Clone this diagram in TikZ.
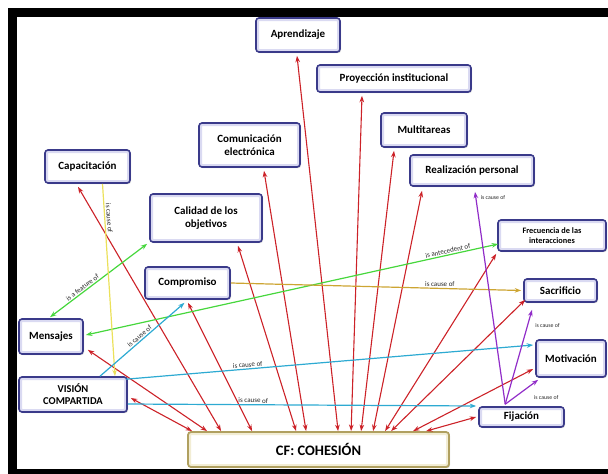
\documentclass[tikz,border=0pt]{standalone}
\usepackage{fontspec}
\setmainfont{Carlito}
\usetikzlibrary{arrows.meta,calc,shadows}
\definecolor{boxline}{RGB}{58,58,138}
\definecolor{boxglow}{RGB}{218,218,242}
\definecolor{cfline}{RGB}{176,160,96}
\definecolor{cfglow}{RGB}{242,237,212}
\definecolor{linkred}{RGB}{204,34,40}
\definecolor{linkgreen}{RGB}{70,215,60}
\definecolor{linkcyan}{RGB}{45,170,210}
\definecolor{linkgold}{RGB}{205,165,50}
\definecolor{linkyellow}{RGB}{235,225,90}
\definecolor{linkpurple}{RGB}{145,45,200}
\tikzset{
  concept/.style={draw=boxline, line width=1.6pt, fill=white, rounded corners=3pt,
    align=center, inner sep=1pt, font=\bfseries\fontsize{11}{12.5}\selectfont,
    drop shadow={shadow xshift=1pt, shadow yshift=-1.2pt, opacity=0.35},
    path picture={\draw[boxglow, line width=6pt]
      (path picture bounding box.south west) rectangle (path picture bounding box.north east);}},
  core/.style={draw=cfline, line width=1.8pt, fill=white, rounded corners=3pt,
    font=\bfseries\fontsize{14.5}{16}\selectfont,
    drop shadow={shadow xshift=1pt, shadow yshift=-1.2pt, opacity=0.35},
    path picture={\draw[cfglow, line width=6pt]
      (path picture bounding box.south west) rectangle (path picture bounding box.north east);}},
  redlink/.style={{Stealth[length=6.5pt,width=4.6pt]}-{Stealth[length=6.5pt,width=4.6pt]}, linkred, line width=1.1pt},
  greenlink/.style={{Stealth[length=6.5pt,width=4.6pt]}-{Stealth[length=6.5pt,width=4.6pt]}, linkgreen, line width=1.2pt},
  onelink/.style={-{Stealth[length=6.5pt,width=4.6pt]}, line width=1.2pt},
  lbl/.style={font=\fontsize{7}{8}\selectfont, text=black!85, inner sep=0.6pt},
  smalllbl/.style={font=\fontsize{5.8}{7}\selectfont, text=black!85, inner sep=0.6pt}
}
\begin{document}
\begin{tikzpicture}[x=1pt,y=-1pt]
\useasboundingbox (0,0) rectangle (608,474);
% black frame on three sides
\fill[black] (8,8) rectangle (608,17);
\fill[black] (8,8) rectangle (17,474);
\fill[black] (8,469) rectangle (608,474);

% concepts
\node[concept, minimum width=84pt, minimum height=34pt] (apr) at (298,35) {Aprendizaje};
\node[concept, minimum width=154pt, minimum height=27pt] (pro) at (394,78.5) {Proyección institucional};
\node[concept, minimum width=86pt, minimum height=34pt] (mul) at (424,130) {Multitareas};
\node[concept, minimum width=124pt, minimum height=31pt] (rea) at (472,170.5) {Realización personal};
\node[concept, minimum width=108pt, minimum height=31pt, font=\bfseries\fontsize{8.3}{10}\selectfont] (fre) at (552,235.5) {Frecuencia de las\\interacciones};
\node[concept, minimum width=73pt, minimum height=23pt] (sac) at (560.5,290.5) {Sacrificio};
\node[concept, minimum width=70pt, minimum height=37pt] (mot) at (571,358.5) {Motivación};
\node[concept, minimum width=85pt, minimum height=20pt] (fij) at (521.5,417) {Fijación};
\node[concept, minimum width=85pt, minimum height=33pt] (cap) at (87.5,166.5) {Capacitación};
\node[concept, minimum width=101pt, minimum height=44pt] (com) at (249.5,145) {Comunicación\\electrónica};
\node[concept, minimum width=112pt, minimum height=48pt] (cal) at (206,218) {Calidad de los\\objetivos};
\node[concept, minimum width=85pt, minimum height=32pt] (cmp) at (187.5,283) {Compromiso};
\node[concept, minimum width=64pt, minimum height=35pt] (men) at (51,336.5) {Mensajes};
\node[concept, minimum width=108pt, minimum height=35pt, font=\bfseries\fontsize{10.5}{12}\selectfont] (vis) at (73,394.5) {VISIÓN\\COMPARTIDA};
\node[core, minimum width=261pt, minimum height=35pt] (cf) at (318.5,449.5) {CF: COHESIÓN};

% two-way links with the core
\draw[redlink] ($(vis.east)+(3,3.5)$) -- ($(cf.north west)+(5,0)$);
\draw[redlink] ($(men.south east)+(4,-5)$) -- ($(cf.north west)+(20,0)$);
\draw[redlink] ($(cap.south)+(-9.5,3)$) -- ($(cf.north west)+(34,0)$);
\draw[redlink] ($(cmp.south)+(0.5,3)$) -- ($(cf.north west)+(65,0)$);
\draw[redlink] ($(cal.south)+(32,3)$) -- ($(cf.north west)+(109,0)$);
\draw[redlink] ($(com.south)+(14.5,3)$) -- ($(cf.north west)+(119,0)$);
\draw[redlink] ($(apr.south)+(-1,3)$) -- ($(cf.north west)+(151,0)$);
\draw[redlink] ($(pro.south)+(-32,3)$) -- ($(cf.north west)+(164,0)$);
\draw[redlink] ($(mul.south)+(-30,3)$) -- ($(cf.north west)+(174,0)$);
\draw[redlink] ($(rea.south)+(-50,4)$) -- ($(cf.north west)+(186,0)$);
\draw[redlink] ($(fre.south west)+(-1,2)$) -- ($(cf.north west)+(198,0)$);
\draw[redlink] ($(sac.south west)+(2,-3)$) -- ($(cf.north west)+(204,0)$);
\draw[redlink] ($(mot.west)+(-2,10.5)$) -- ($(cf.north west)+(226,0)$);
\draw[redlink] ($(fij.west)+(-2,0)$) -- ($(cf.north west)+(239,0)$);

% green links
\draw[greenlink] ($(men.north)+(-1,-1)$) -- node[lbl, pos=0.36, sloped, above=0.5pt] {is a feature of} ($(cal.south west)+(-2,1)$);
\draw[greenlink] ($(men.east)+(2,-1.5)$) -- node[lbl, pos=0.88, sloped, above=0.5pt] {is antecedent of} ($(fre.west)+(1,8.5)$);

% one-way cause links
\draw[onelink, linkgold] (cmp.east) -- node[lbl, pos=0.72, above=1pt] {is cause of} ($(sac.west)+(-2,0)$);
\draw[onelink, linkyellow] ($(cap.south)+(15,0)$) -- node[lbl, pos=0.18, rotate=-86, anchor=south, inner sep=1.5pt] {is cause of} ($(vis.north)+(42,0)$);
\draw[onelink, linkcyan] ($(vis.north)+(27,0)$) -- node[lbl, pos=0.5, sloped, above=0.5pt] {is cause of} ($(cmp.south)+(-3,3)$);
\draw[onelink, linkcyan] ($(vis.north east)+(-2,3)$) -- node[lbl, pos=0.3, sloped, above=0.5pt] {is cause of} ($(mot.west)+(-2,-13.5)$);
\draw[onelink, linkcyan] ($(vis.east)+(0,9.5)$) -- node[lbl, pos=0.36, sloped, above=0.5pt] {is cause of} ($(fij.west)+(-2,-11)$);

% links leaving Fijación
\coordinate (fijtop) at ($(fij.north west)+(27,-2)$);
\draw[onelink, linkpurple] (fijtop) -- ($(rea.south)+(3,5)$);
\draw[onelink, linkpurple] (fijtop) -- ($(sac.south)+(-28.5,7)$);
\draw[onelink, linkpurple] (fijtop) -- ($(mot.south west)+(3,2)$);
\node[smalllbl, anchor=west] (lrea) at ($(rea.south)+(8,11)$) {is cause of};
\node[smalllbl, anchor=west] (lsac) at ($(sac.south)+(-26,23)$) {is cause of};
\node[smalllbl, anchor=west] (lmot) at ($(mot.south west)+(-2,20)$) {is cause of};
\end{tikzpicture}
\end{document}
